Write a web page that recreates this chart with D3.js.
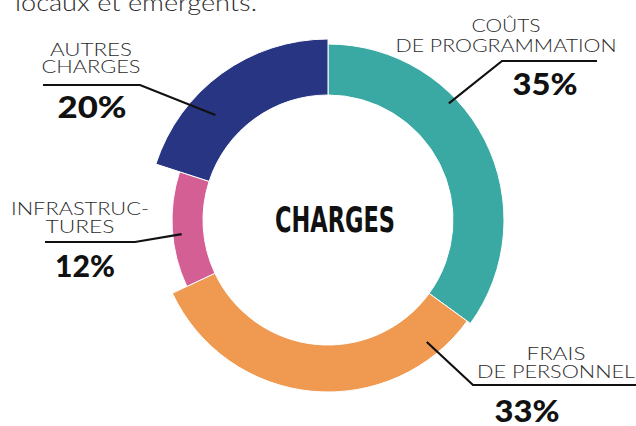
<!DOCTYPE html>
<html>
<head>
<meta charset="utf-8">
<script src="https://cdn.jsdelivr.net/npm/d3@7"></script>
<style>
  html, body { margin: 0; padding: 0; background: #fff; }
  svg { display: block; }
  .lbl { font-family: Lato, "Open Sans", sans-serif; font-weight: 300; fill: #2b2b2b; }
  .pct { font-family: Lato, "Open Sans", sans-serif; font-weight: 900; fill: #111; }
</style>
</head>
<body>
<svg id="chart" width="636" height="426"></svg>
<script>
// Répartition des charges (%)
const categories = ["Coûts de programmation", "Frais de personnel", "Infrastructures", "Autres charges"];
const values = [35, 33, 12, 20];
const labelLines = [["COÛTS", "DE PROGRAMMATION"], ["FRAIS", "DE PERSONNEL"], ["INFRASTRUC-", "TURES"], ["AUTRES", "CHARGES"]];
const percentLabels = values.map(v => v + "%");
const colors = ["#3ba9a3", "#ef9a50", "#d45f95", "#283583"];
const centerTitle = "CHARGES";

// Geometry of the ring: common inner radius, each slice has its own outer radius
const cx = 328, cy = 220;
const innerR = 125;
const outerR = [176, 172, 156, 181];

// Leader-line layout for each slice: anchor inside the slice (angle in degrees, radius),
// elbow, end of the horizontal rule, and where the text block sits
const layout = [
  { a: 46, r: 168, elbow: [502, 61], end: [597, 61], tx: 506, ty: [32, 52], tw: [69, 221], px: 545, py: 95, pw: 65 },
  { a: 141, r: 157, elbow: [473, 385], end: [640, 385], tx: 556, ty: [360, 378], tw: [59, 158], px: 527, py: 422, pw: 65 },
  { a: 264.5, r: 147, elbow: [135, 242], end: [45, 242], tx: 80, ty: [215, 233], tw: [138, 69], px: 85, py: 277, pw: 60 },
  { a: 313, r: 154, elbow: [140, 85], end: [43, 85], tx: 91, ty: [56, 73], tw: [82, 99], px: 92, py: 118, pw: 69 }
];

const svg = d3.select("#chart");

// Intro line running off the top edge
svg.append("text")
  .attr("class", "lbl")
  .attr("x", 15).attr("y", 11)
  .attr("font-size", 23)
  .attr("textLength", 242).attr("lengthAdjust", "spacingAndGlyphs")
  .text("locaux et émergents.");

const pie = d3.pie().sort(null).value(d => d)
  .startAngle(0).endAngle(2 * Math.PI);
const arcs = pie(values);

const g = svg.append("g").attr("transform", `translate(${cx},${cy})`);

g.selectAll("path.slice")
  .data(arcs)
  .join("path")
  .attr("class", "slice")
  .attr("d", (d, i) => d3.arc().innerRadius(innerR).outerRadius(outerR[i])(d))
  .attr("fill", (d, i) => colors[i])
  .attr("stroke", "#fff")
  .attr("stroke-width", 1);

// Centre title
svg.append("text")
  .attr("x", 335).attr("y", 232)
  .attr("text-anchor", "middle")
  .attr("font-family", "'Liberation Sans Narrow', 'DejaVu Sans Condensed', sans-serif")
  .attr("font-weight", 700)
  .attr("font-size", 35)
  .attr("textLength", 120).attr("lengthAdjust", "spacingAndGlyphs")
  .attr("fill", "#111")
  .text(centerTitle);

// Leader lines and labels
arcs.forEach((d, i) => {
  const L = layout[i];
  const ang = L.a * Math.PI / 180;
  const ax = cx + L.r * Math.sin(ang), ay = cy - L.r * Math.cos(ang);
  svg.append("polyline")
    .attr("points", [[ax, ay], L.elbow, L.end].map(p => p.join(",")).join(" "))
    .attr("fill", "none")
    .attr("stroke", "#111")
    .attr("stroke-width", 2.2);

  labelLines[i].forEach((line, j) => {
    svg.append("text")
      .attr("class", "lbl")
      .attr("x", L.tx).attr("y", L.ty[j])
      .attr("text-anchor", "middle")
      .attr("font-size", 17)
      .attr("textLength", L.tw[j]).attr("lengthAdjust", "spacingAndGlyphs")
      .text(line);
  });

  svg.append("text")
    .attr("class", "pct")
    .attr("x", L.px).attr("y", L.py)
    .attr("text-anchor", "middle")
    .attr("font-size", 30)
    .attr("textLength", L.pw).attr("lengthAdjust", "spacingAndGlyphs")
    .text(percentLabels[i]);
});
</script>
</body>
</html>
